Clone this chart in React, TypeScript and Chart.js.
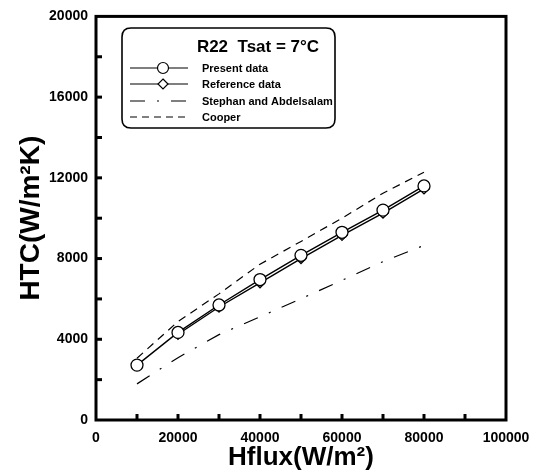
import React, { useEffect, useRef } from 'react';
import { Chart, registerables } from 'chart.js';

Chart.register(...registerables);

const hflux = [10000, 20000, 30000, 40000, 50000, 60000, 70000, 80000];
const presentData = [2720, 4340, 5700, 6960, 8160, 9300, 10400, 11600];
const refFlux = [20000, 30000, 40000, 50000, 60000, 70000, 80000];
const referenceData = [4250, 5600, 6800, 8000, 9150, 10250, 11450];
const stephanData = [1790, 3090, 4230, 5110, 6010, 6920, 7850, 8650];
const cooperData = [3060, 4880, 6250, 7720, 8850, 10000, 11240, 12280];
const xMinorTicks = [10000, 20000, 30000, 40000, 50000, 60000, 70000, 80000, 90000];
const yMinorTicks = [2000, 4000, 6000, 8000, 10000, 12000, 14000, 16000, 18000];
const legendTitle = 'R22  Tsat = 7°C';
const legendLabels = ['Present data', 'Reference data', 'Stephan and Abdelsalam', 'Cooper'];

const FONT = "'Liberation Sans', Arial, Helvetica, sans-serif";
const stephanDash = [15, 12, 2, 12];
const cooperDash = [8, 6];
const cooperLegendDash = [7, 5];

const framePlugin = {
  id: 'frame',
  afterDraw(chart: any) {
    const { ctx, chartArea, scales } = chart;
    const { left, right, top, bottom } = chartArea;
    ctx.save();
    ctx.strokeStyle = '#000';
    ctx.lineWidth = 3;
    ctx.strokeRect(left, top, right - left, bottom - top);
    yMinorTicks.forEach((v) => {
      const py = scales.y.getPixelForValue(v);
      ctx.beginPath();
      ctx.moveTo(left, py);
      ctx.lineTo(left + 6, py);
      ctx.stroke();
    });
    xMinorTicks.forEach((v) => {
      const px = scales.x.getPixelForValue(v);
      ctx.beginPath();
      ctx.moveTo(px, bottom);
      ctx.lineTo(px, bottom - 6);
      ctx.stroke();
    });

    // legend box
    const bx = 122, by = 28, bw = 213, bh = 100, r = 9;
    ctx.lineWidth = 1.6;
    ctx.fillStyle = '#fff';
    ctx.beginPath();
    ctx.moveTo(bx + r, by);
    ctx.lineTo(bx + bw - r, by);
    ctx.quadraticCurveTo(bx + bw, by, bx + bw, by + r);
    ctx.lineTo(bx + bw, by + bh - r);
    ctx.quadraticCurveTo(bx + bw, by + bh, bx + bw - r, by + bh);
    ctx.lineTo(bx + r, by + bh);
    ctx.quadraticCurveTo(bx, by + bh, bx, by + bh - r);
    ctx.lineTo(bx, by + r);
    ctx.quadraticCurveTo(bx, by, bx + r, by);
    ctx.closePath();
    ctx.fill();
    ctx.stroke();

    ctx.fillStyle = '#000';
    ctx.font = `bold 17px ${FONT}`;
    ctx.textAlign = 'center';
    ctx.textBaseline = 'middle';
    ctx.fillText(legendTitle, 258, 47);

    const rows = [68, 84, 101, 117];
    const x0 = 130, x1 = 188, mx = 163;
    ctx.font = `bold 11px ${FONT}`;
    ctx.textAlign = 'left';
    rows.forEach((ry, i) => {
      ctx.lineWidth = 1.2;
      ctx.strokeStyle = '#000';
      if (i === 2) ctx.setLineDash(stephanDash);
      else if (i === 3) ctx.setLineDash(cooperLegendDash);
      else ctx.setLineDash([]);
      ctx.beginPath();
      ctx.moveTo(x0, ry);
      ctx.lineTo(x1, ry);
      ctx.stroke();
      ctx.setLineDash([]);
      if (i === 0) {
        ctx.fillStyle = '#fff';
        ctx.beginPath();
        ctx.arc(mx, ry, 5.5, 0, Math.PI * 2);
        ctx.fill();
        ctx.stroke();
      } else if (i === 1) {
        ctx.fillStyle = '#fff';
        ctx.beginPath();
        ctx.moveTo(mx, ry - 5);
        ctx.lineTo(mx + 5, ry);
        ctx.lineTo(mx, ry + 5);
        ctx.lineTo(mx - 5, ry);
        ctx.closePath();
        ctx.fill();
        ctx.stroke();
      }
      ctx.fillStyle = '#000';
      ctx.fillText(legendLabels[i], 202, ry + 1);
    });
    ctx.restore();
  },
};

export default function App() {
  const ref = useRef<HTMLCanvasElement>(null);
  useEffect(() => {
    if (!ref.current) return;
    const chart = new Chart(ref.current, {
      type: 'line',
      data: {
        datasets: [
          {
            label: legendLabels[2],
            data: hflux.map((x, i) => ({ x, y: stephanData[i] })),
            borderColor: '#000',
            borderWidth: 1.2,
            borderDash: stephanDash,
            pointRadius: 0,
            fill: false,
          },
          {
            label: legendLabels[3],
            data: hflux.map((x, i) => ({ x, y: cooperData[i] })),
            borderColor: '#000',
            borderWidth: 1.2,
            borderDash: cooperDash,
            pointRadius: 0,
            fill: false,
          },
          {
            label: legendLabels[0],
            data: hflux.map((x, i) => ({ x, y: presentData[i] })),
            borderColor: '#000',
            borderWidth: 1.4,
            pointStyle: 'circle',
            pointRadius: 6,
            pointBorderWidth: 1.3,
            pointBackgroundColor: '#fff',
            pointBorderColor: '#000',
            fill: false,
          },
          {
            label: legendLabels[1],
            data: refFlux.map((x, i) => ({ x, y: referenceData[i] })),
            borderColor: '#000',
            borderWidth: 1.4,
            pointStyle: 'rectRot',
            pointRadius: 5,
            pointBorderWidth: 1.3,
            pointBackgroundColor: 'rgba(255,255,255,0)',
            pointBorderColor: '#000',
            fill: false,
          },
        ],
      },
      options: {
        animation: false,
        responsive: true,
        maintainAspectRatio: false,
        layout: { padding: { top: 14, right: 36, left: 0, bottom: 0 } },
        plugins: { legend: { display: false }, tooltip: { enabled: false } },
        scales: {
          x: {
            type: 'linear',
            min: 0,
            max: 100000,
            grid: { display: false, drawTicks: false },
            border: { display: false },
            ticks: {
              stepSize: 20000,
              autoSkip: false,
              maxRotation: 0,
              color: '#000',
              padding: 10,
              font: { family: FONT, size: 14, weight: 'bold' },
              callback: (v: any) => String(v),
            },
            title: {
              display: true,
              text: 'Hflux(W/m²)',
              color: '#000',
              font: { family: FONT, size: 26, weight: 'bold' },
              padding: { top: 0, bottom: 2 },
            },
            afterFit: (s: any) => {
              s.height = 55;
            },
          },
          y: {
            type: 'linear',
            min: 0,
            max: 20000,
            grid: { display: false, drawTicks: false },
            border: { display: false },
            ticks: {
              stepSize: 4000,
              autoSkip: false,
              color: '#000',
              padding: 8,
              font: { family: FONT, size: 14, weight: 'bold' },
              callback: (v: any) => String(v),
            },
            title: {
              display: true,
              text: 'HTC(W/m²K)',
              color: '#000',
              font: { family: FONT, size: 28, weight: 'bold' },
              padding: { top: 14, bottom: 0 },
            },
            afterFit: (s: any) => {
              s.width = 96;
            },
          },
        },
      },
      plugins: [framePlugin],
    });
    return () => chart.destroy();
  }, []);
  return (
    <div style={{ position: 'fixed', left: 0, top: 0, width: 542, height: 475, background: '#fff' }}>
      <canvas ref={ref} />
    </div>
  );
}
